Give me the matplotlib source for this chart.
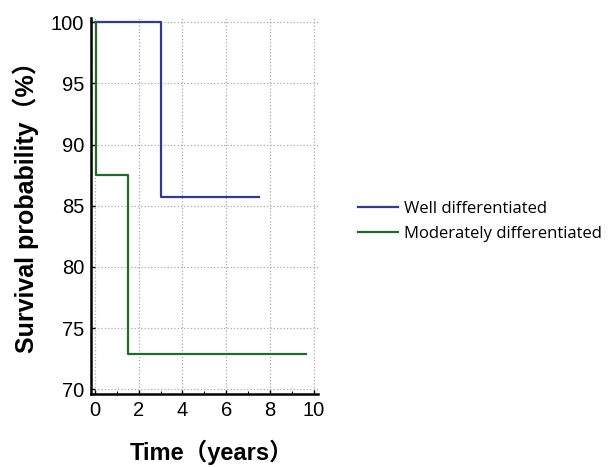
import matplotlib
matplotlib.use('Agg')
import matplotlib.pyplot as plt
import numpy as np

#--step curves (time in years, survival in %)
well_t=[0.0,3.0,3.0,7.5]
well_s=[100.0,100.0,85.7,85.7]
mod_t=[0.05,0.05,1.5,1.5,9.65]
mod_s=[100.0,87.5,87.5,72.9,72.9]

labels=['Well differentiated','Moderately differentiated']
xticks=[0,2,4,6,8,10]
yticks=[70,75,80,85,90,95,100]

fig=plt.figure(figsize=(6.11,4.67),dpi=100)
ax=fig.add_axes([0.149,0.156,0.371,0.805])

l1,=ax.plot(well_t,well_s,c='#2e3a9a',linewidth=1.6)
l2,=ax.plot(mod_t,mod_s,c='#1e6b2a',linewidth=1.6)

ax.set_xlim(-0.18,10.18)
ax.set_ylim(69.6,100.33)
ax.set_xticks(xticks)
ax.set_yticks(yticks)
ax.set_xticks(np.arange(0,11,1),minor=True)
ax.grid(True,which='major',color='#aaaaaa',linestyle=':',linewidth=0.9)
ax.tick_params(direction='in',length=3,width=1.0,labelsize=14.5,pad=5)
ax.tick_params(which='minor',direction='in',length=2,width=0.8)
for s in ['top','right']:
  ax.spines[s].set_visible(False)
for s in ['left','bottom']:
  ax.spines[s].set_linewidth(1.8)
for lab in ax.get_xticklabels()+ax.get_yticklabels():
  lab.set_family('Liberation Sans')

fam=['Liberation Sans','Noto Sans CJK SC']
ax.set_xlabel('Time（years）',fontsize=17,fontweight='bold',family=fam,va='center')
ax.set_ylabel('Survival probability（%）',fontsize=18,fontweight='bold',family=fam,va='center')
ax.xaxis.set_label_coords(0.533,-0.154)
ax.yaxis.set_label_coords(-0.29,0.513)

fig.legend([l1,l2],labels,loc='center left',bbox_to_anchor=(0.5615,0.526),frameon=False,
  prop={'family':'Open Sans','size':12},handlelength=2.4,handletextpad=0.35,labelspacing=0.57)

plt.savefig('out.png',dpi=100)
